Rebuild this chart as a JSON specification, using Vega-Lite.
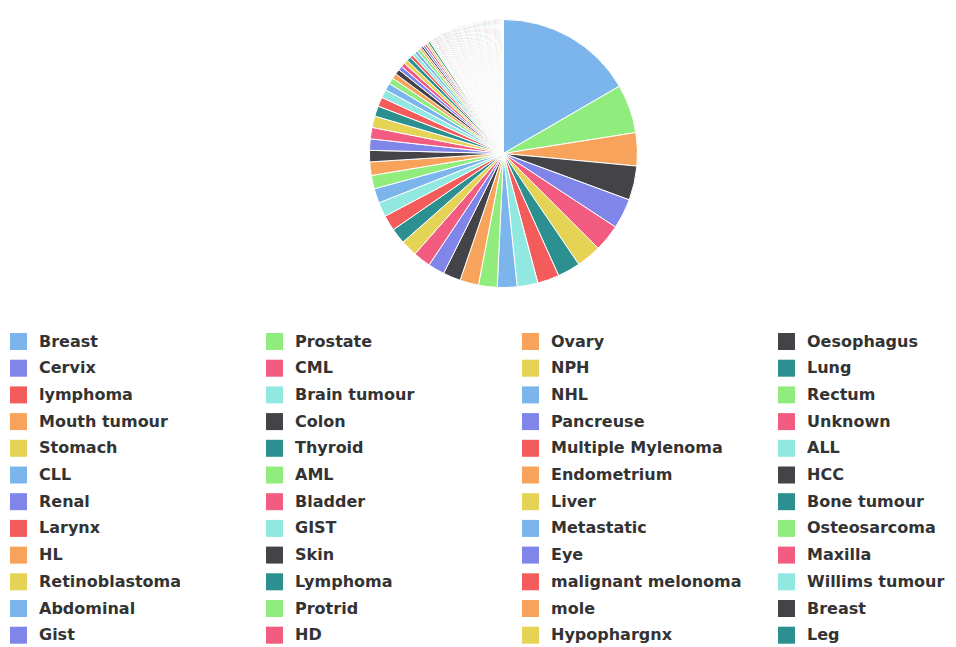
{
  "$schema": "https://vega.github.io/schema/vega-lite/v6.json",
  "autosize": {"type": "none"},
  "padding": {"left": 51, "top": 0, "right": 0, "bottom": 340},
  "width": 905,
  "height": 307,
  "background": "#ffffff",
  "config": {"view": {"stroke": null}},
  "data": {"values": [
    {"i":0,"k":"000|Breast","v":133},
    {"i":1,"k":"001|Prostate","v":47},
    {"i":2,"k":"002|Ovary","v":32},
    {"i":3,"k":"003|Oesophagus","v":33},
    {"i":4,"k":"004|Cervix","v":29},
    {"i":5,"k":"005|CML","v":26},
    {"i":6,"k":"006|NPH","v":24},
    {"i":7,"k":"007|Lung","v":22},
    {"i":8,"k":"008|lymphoma","v":21},
    {"i":9,"k":"009|Brain tumour","v":20},
    {"i":10,"k":"010|NHL","v":19},
    {"i":11,"k":"011|Rectum","v":18},
    {"i":12,"k":"012|Mouth tumour","v":18},
    {"i":13,"k":"013|Colon","v":17},
    {"i":14,"k":"014|Pancreuse","v":16},
    {"i":15,"k":"015|Unknown","v":17},
    {"i":16,"k":"016|Stomach","v":16},
    {"i":17,"k":"017|Thyroid","v":15},
    {"i":18,"k":"018|Multiple Mylenoma","v":15},
    {"i":19,"k":"019|ALL","v":14},
    {"i":20,"k":"020|CLL","v":14},
    {"i":21,"k":"021|AML","v":13},
    {"i":22,"k":"022|Endometrium","v":13},
    {"i":23,"k":"023|HCC","v":11},
    {"i":24,"k":"024|Renal","v":11},
    {"i":25,"k":"025|Bladder","v":11},
    {"i":26,"k":"026|Liver","v":11},
    {"i":27,"k":"027|Bone tumour","v":10},
    {"i":28,"k":"028|Larynx","v":9},
    {"i":29,"k":"029|GIST","v":8},
    {"i":30,"k":"030|Metastatic","v":7},
    {"i":31,"k":"031|Osteosarcoma","v":6},
    {"i":32,"k":"032|HL","v":5},
    {"i":33,"k":"033|Skin","v":5},
    {"i":34,"k":"034|Eye","v":4},
    {"i":35,"k":"035|Maxilla","v":4},
    {"i":36,"k":"036|Retinoblastoma","v":4},
    {"i":37,"k":"037|Lymphoma","v":4},
    {"i":38,"k":"038|malignant melonoma","v":3},
    {"i":39,"k":"039|Willims tumour","v":3},
    {"i":40,"k":"040|Abdominal","v":3},
    {"i":41,"k":"041|Protrid","v":3},
    {"i":42,"k":"042|mole","v":2},
    {"i":43,"k":"043|Breast","v":2},
    {"i":44,"k":"044|Gist","v":2},
    {"i":45,"k":"045|HD","v":2},
    {"i":46,"k":"046|Hypophargnx","v":2},
    {"i":47,"k":"047|Leg","v":2},
    {"i":48,"k":"048|other","v":1},{"i":49,"k":"049|other","v":1},
    {"i":50,"k":"050|other","v":1},{"i":51,"k":"051|other","v":1},
    {"i":52,"k":"052|other","v":1},{"i":53,"k":"053|other","v":1},
    {"i":54,"k":"054|other","v":1},{"i":55,"k":"055|other","v":1},
    {"i":56,"k":"056|other","v":1},{"i":57,"k":"057|other","v":1},
    {"i":58,"k":"058|other","v":1},{"i":59,"k":"059|other","v":1},
    {"i":60,"k":"060|other","v":1},{"i":61,"k":"061|other","v":1},
    {"i":62,"k":"062|other","v":1},{"i":63,"k":"063|other","v":1},
    {"i":64,"k":"064|other","v":1},{"i":65,"k":"065|other","v":1},
    {"i":66,"k":"066|other","v":1},{"i":67,"k":"067|other","v":1},
    {"i":68,"k":"068|other","v":1},{"i":69,"k":"069|other","v":1},
    {"i":70,"k":"070|other","v":1},{"i":71,"k":"071|other","v":1},
    {"i":72,"k":"072|other","v":1},{"i":73,"k":"073|other","v":1},
    {"i":74,"k":"074|other","v":1},{"i":75,"k":"075|other","v":1},
    {"i":76,"k":"076|other","v":1},{"i":77,"k":"077|other","v":1},
    {"i":78,"k":"078|other","v":1},{"i":79,"k":"079|other","v":1},
    {"i":80,"k":"080|other","v":1},{"i":81,"k":"081|other","v":1},
    {"i":82,"k":"082|other","v":1},{"i":83,"k":"083|other","v":1},
    {"i":84,"k":"084|other","v":1},{"i":85,"k":"085|other","v":1},
    {"i":86,"k":"086|other","v":1},{"i":87,"k":"087|other","v":1},
    {"i":88,"k":"088|other","v":1},{"i":89,"k":"089|other","v":1},
    {"i":90,"k":"090|other","v":1},{"i":91,"k":"091|other","v":1},
    {"i":92,"k":"092|other","v":1},{"i":93,"k":"093|other","v":1},
    {"i":94,"k":"094|other","v":1},{"i":95,"k":"095|other","v":1},
    {"i":96,"k":"096|other","v":1},{"i":97,"k":"097|other","v":1},
    {"i":98,"k":"098|other","v":1},{"i":99,"k":"099|other","v":1},
    {"i":100,"k":"100|other","v":1},{"i":101,"k":"101|other","v":1},
    {"i":102,"k":"102|other","v":1},{"i":103,"k":"103|other","v":1},
    {"i":104,"k":"104|other","v":1},{"i":105,"k":"105|other","v":1},
    {"i":106,"k":"106|other","v":1},{"i":107,"k":"107|other","v":1},
    {"i":108,"k":"108|other","v":1},{"i":109,"k":"109|other","v":1},
    {"i":110,"k":"110|other","v":1},{"i":111,"k":"111|other","v":1},
    {"i":112,"k":"112|other","v":1},{"i":113,"k":"113|other","v":1},
    {"i":114,"k":"114|other","v":1},{"i":115,"k":"115|other","v":1},
    {"i":116,"k":"116|other","v":1},{"i":117,"k":"117|other","v":1},
    {"i":118,"k":"118|other","v":1},{"i":119,"k":"119|other","v":1},
    {"i":120,"k":"120|other","v":1},{"i":121,"k":"121|other","v":1}
  ]},
  "mark": {"type": "arc", "outerRadius": 134, "stroke": "#ffffff", "strokeWidth": 1},
  "encoding": {
    "theta": {"field": "v", "type": "quantitative", "stack": true},
    "order": {"field": "i", "type": "quantitative"},
    "color": {
      "field": "k",
      "type": "nominal",
      "scale": {"range": ["#7cb5ec", "#90ed7d", "#f7a35c", "#434348", "#8085e9", "#f15c80", "#e4d354", "#2b908f", "#f45b5b", "#91e8e1"]},
      "legend": {
        "title": null,
        "orient": "none",
        "direction": "horizontal",
        "legendX": -41,
        "legendY": 333,
        "columns": 4,
        "gridAlign": "all",
        "columnPadding": 36,
        "rowPadding": 9.7,
        "symbolLimit": 0,
        "symbolType": "square",
        "symbolSize": 289,
        "symbolStrokeWidth": 0,
        "symbolOpacity": 1,
        "labelOffset": 12,
        "labelFont": "DejaVu Sans",
        "labelFontSize": 16,
        "labelFontWeight": "bold",
        "labelColor": "#333333",
        "labelLimit": 300,
        "labelExpr": "split(datum.label, '|')[1]",
        "values": ["000|Breast","001|Prostate","002|Ovary","003|Oesophagus","004|Cervix","005|CML","006|NPH","007|Lung","008|lymphoma","009|Brain tumour","010|NHL","011|Rectum","012|Mouth tumour","013|Colon","014|Pancreuse","015|Unknown","016|Stomach","017|Thyroid","018|Multiple Mylenoma","019|ALL","020|CLL","021|AML","022|Endometrium","023|HCC","024|Renal","025|Bladder","026|Liver","027|Bone tumour","028|Larynx","029|GIST","030|Metastatic","031|Osteosarcoma","032|HL","033|Skin","034|Eye","035|Maxilla","036|Retinoblastoma","037|Lymphoma","038|malignant melonoma","039|Willims tumour","040|Abdominal","041|Protrid","042|mole","043|Breast","044|Gist","045|HD","046|Hypophargnx","047|Leg"]
      }
    }
  }
}
